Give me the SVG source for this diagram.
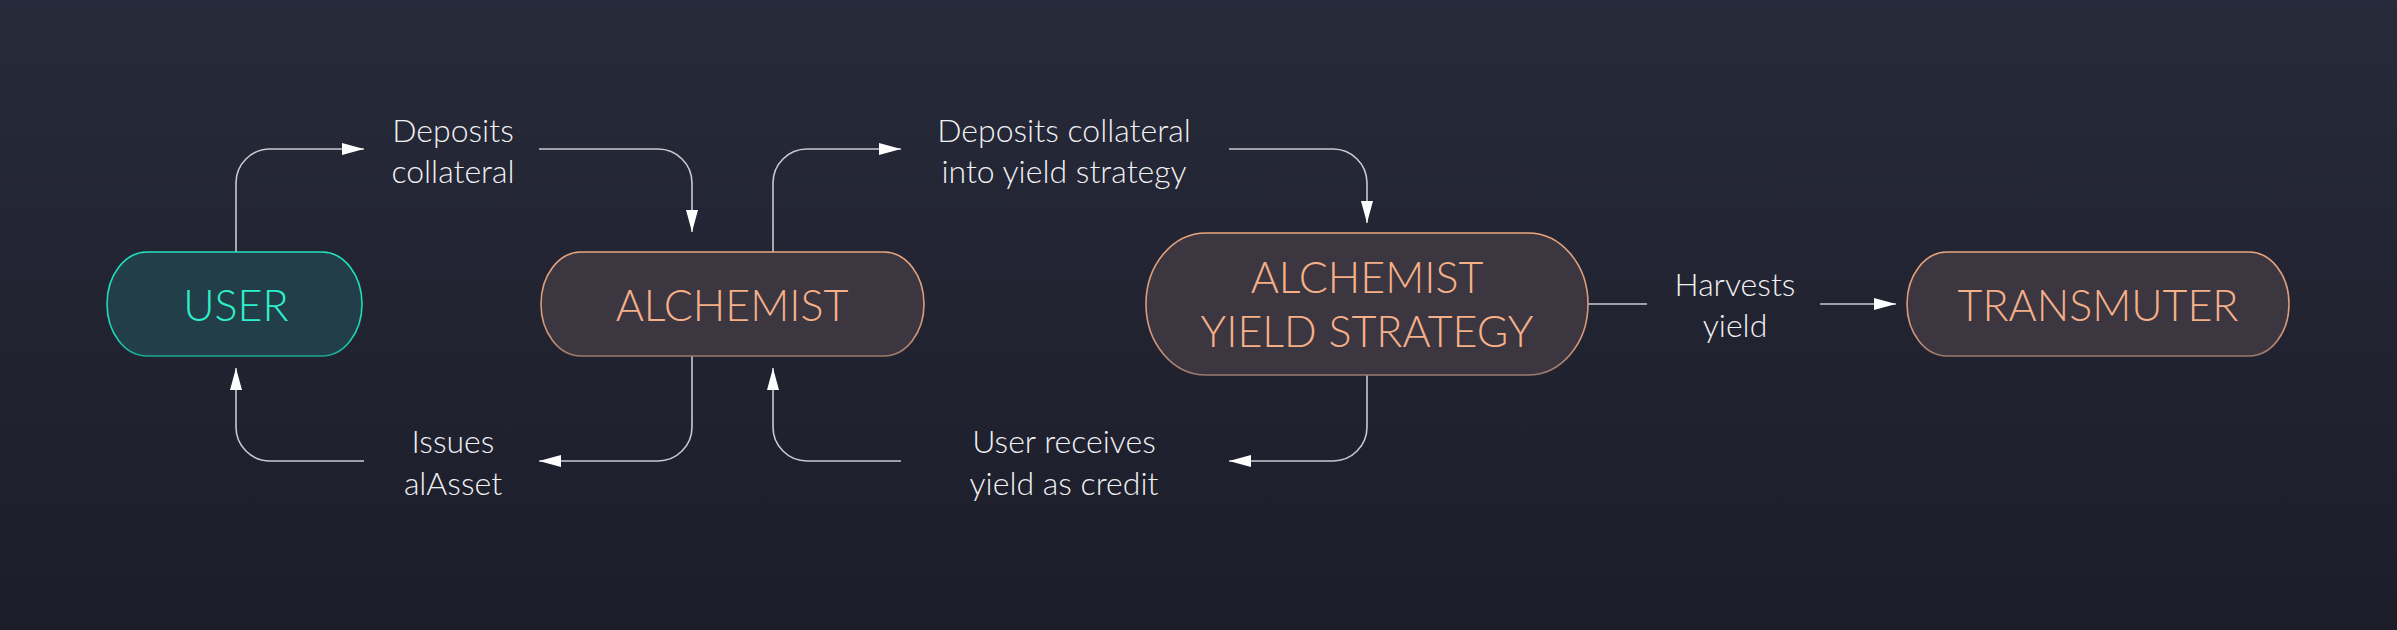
<svg xmlns="http://www.w3.org/2000/svg" width="2397" height="630" viewBox="0 0 2397 630">
<defs>
<linearGradient id="bg" x1="0" y1="0" x2="0" y2="1">
<stop offset="0" stop-color="#272a3a"/>
<stop offset="1" stop-color="#1c1d29"/>
</linearGradient>
<linearGradient id="tealStroke" x1="0" y1="0" x2="0" y2="1">
<stop offset="0" stop-color="#22e2c0"/>
<stop offset="0.8" stop-color="#20d6b6"/>
<stop offset="1" stop-color="#17a890"/>
</linearGradient>
<linearGradient id="peachStroke" x1="0" y1="0" x2="0" y2="1">
<stop offset="0" stop-color="#e8a47c"/>
<stop offset="0.8" stop-color="#d2967a"/>
<stop offset="1" stop-color="#9a7a6a"/>
</linearGradient>
<marker id="arrow" markerUnits="userSpaceOnUse" markerWidth="22" markerHeight="12" refX="22" refY="6" orient="auto">
<path d="M0,0 L22,6 L0,12 Z" fill="#ffffff"/>
</marker>
<style>
.conn{fill:none;stroke:#c9c9d0;stroke-width:1.6}
.arr{marker-end:url(#arrow)}
.lbl{font-family:Lato,"Liberation Sans",sans-serif;font-weight:300;font-size:32px;fill:#f0f0f2;text-anchor:middle}
.ntext{font-family:Lato,"Liberation Sans",sans-serif;font-weight:300;font-size:43px;text-anchor:middle}
.user rect{fill:#223f49;stroke:url(#tealStroke);stroke-width:1.6}
.user text{fill:#2ef0cc}
.alc rect{fill:#3c3640;stroke:url(#peachStroke);stroke-width:1.6}
.alc text{fill:#f5b088}
</style>
</defs>
<rect x="0" y="0" width="2397" height="630" fill="url(#bg)"/>

<g id="connectors">
<path class="conn arr" d="M236,252 V183 A34,34 0 0 1 270,149 H364"/>
<path class="conn arr" d="M539,149 H658 A34,34 0 0 1 692,183 V232"/>
<path class="conn arr" d="M692,356 V427 A34,34 0 0 1 658,461 H539"/>
<path class="conn arr" d="M364,461 H270 A34,34 0 0 1 236,427 V368"/>
<path class="conn arr" d="M773,252 V183 A34,34 0 0 1 807,149 H901"/>
<path class="conn arr" d="M1229,149 H1333 A34,34 0 0 1 1367,183 V223"/>
<path class="conn arr" d="M1367,375 V427 A34,34 0 0 1 1333,461 H1229"/>
<path class="conn arr" d="M901,461 H807 A34,34 0 0 1 773,427 V368"/>
<path class="conn" d="M1588,304 H1647"/>
<path class="conn arr" d="M1820,304 H1896"/>
</g>

<g id="labels">
<text class="lbl" x="453" y="142">Deposits</text>
<text class="lbl" x="453" y="183">collateral</text>
<text class="lbl" x="453" y="453">Issues</text>
<text class="lbl" x="453" y="495">alAsset</text>
<text class="lbl" x="1064" y="142">Deposits collateral</text>
<text class="lbl" x="1064" y="183">into yield strategy</text>
<text class="lbl" x="1064" y="453">User receives</text>
<text class="lbl" x="1064" y="495">yield as credit</text>
<text class="lbl" x="1735" y="296">Harvests</text>
<text class="lbl" x="1735" y="337">yield</text>
</g>

<g id="user" class="user">
<rect x="107" y="252" width="255" height="104" rx="40" ry="52"/>
<text class="ntext" x="236" y="321">USER</text>
</g>
<g id="alchemist" class="alc">
<rect x="541" y="252" width="383" height="104" rx="40" ry="52"/>
<text class="ntext" x="732" y="321">ALCHEMIST</text>
</g>
<g id="yield-strategy" class="alc">
<rect x="1146" y="233" width="442" height="142" rx="60" ry="71"/>
<text class="ntext" x="1367" y="293">ALCHEMIST</text>
<text class="ntext" x="1367" y="347">YIELD STRATEGY</text>
</g>
<g id="transmuter" class="alc">
<rect x="1907" y="252" width="382" height="104" rx="40" ry="52"/>
<text class="ntext" x="2098" y="321">TRANSMUTER</text>
</g>
</svg>
